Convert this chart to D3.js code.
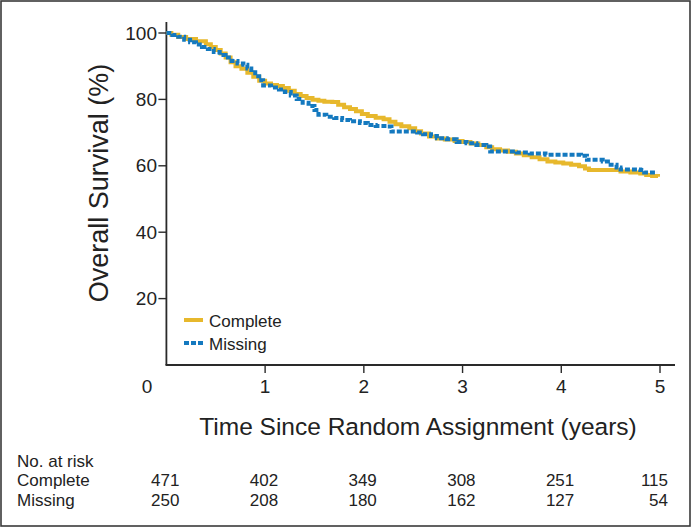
<!DOCTYPE html>
<html><head><meta charset="utf-8">
<script src="https://cdn.jsdelivr.net/npm/d3@7/dist/d3.min.js"></script>
<style>
html,body{margin:0;padding:0;background:#fff;}
svg text{font-family:"Liberation Sans Narrow","Arial Narrow","Liberation Sans",Arial,sans-serif;fill:#222;}
</style></head>
<body><svg id="c" width="692" height="529"></svg>
<script>
// ---- data ----
const completeTimes = [0,0.05,0.12,0.2,0.3,0.4,0.45,0.5,0.55,0.6,0.65,0.7,0.76,0.82,0.88,0.94,1.0,1.06,1.12,1.18,1.24,1.3,1.36,1.42,1.48,1.54,1.6,1.68,1.74,1.8,1.86,1.92,1.98,2.04,2.12,2.2,2.26,2.32,2.38,2.46,2.52,2.58,2.66,2.74,2.82,2.92,3.0,3.08,3.16,3.24,3.3,3.38,3.46,3.54,3.62,3.7,3.78,3.86,3.94,4.02,4.1,4.18,4.24,4.28,4.55,4.6,4.7,4.8,4.86,4.92,4.98];
const completeSurv = [100,99.5,98.8,98.2,97.5,96.6,95.8,94.9,93.8,92.6,91.2,90.0,89.2,88.0,86.8,85.6,84.8,84.3,84.0,83.4,82.6,81.6,81.0,80.4,79.9,79.6,79.3,79.2,78.4,77.6,77.1,76.4,75.6,75.0,74.5,74.0,73.3,72.5,71.9,71.3,70.4,69.7,68.8,68.2,67.9,67.5,67.2,66.7,66.3,65.6,65.0,64.6,64.2,63.7,63.2,62.6,62.0,61.3,61.0,60.7,60.3,59.9,59.2,58.7,58.7,58.3,58.0,57.7,57.2,56.9,56.7];
const missingTimes = [0,0.06,0.12,0.18,0.24,0.3,0.36,0.42,0.48,0.54,0.6,0.66,0.72,0.78,0.82,0.86,0.9,0.94,0.98,1.06,1.14,1.2,1.26,1.32,1.38,1.44,1.5,1.54,1.62,1.7,1.78,1.86,1.96,2.04,2.12,2.24,2.28,2.54,2.6,2.68,2.74,2.84,2.94,3.04,3.14,3.24,3.28,3.55,3.68,3.84,4.2,4.26,4.42,4.5,4.56,4.6,4.8,4.84,4.97];
const missingSurv = [100,99.4,98.9,98.0,97.2,96.5,95.8,95.2,94.3,93.4,92.6,91.6,90.8,90.4,89.3,88.2,87.0,85.8,84.2,83.6,83.0,82.2,81.2,80.1,79.0,78.0,76.8,75.4,74.8,74.4,73.8,73.4,72.9,72.3,72.0,71.8,70.3,70.0,69.5,69.0,68.3,68.0,67.2,66.8,66.3,65.8,64.3,64.0,63.7,63.3,63.0,61.8,61.3,60.3,59.5,58.9,58.7,58.0,58.0];
const xTicks = [0,1,2,3,4,5];
const yTicks = [20,40,60,80,100];
const riskGroups = ["Complete","Missing"];
const riskComplete = [471,402,349,308,251,115];
const riskMissing = [250,208,180,162,127,54];
const seriesNames = ["Complete","Missing"];
const seriesColors = ["#E7B82C","#1479BF"];

// ---- layout ----
const svg = d3.select("#c");
const x = d3.scaleLinear().domain([0,5]).range([166.4,660]);
const y = d3.scaleLinear().domain([0,100]).range([365,33]);

// outer frame
svg.append("rect").attr("x",1).attr("y",1).attr("width",689).attr("height",525)
  .attr("fill","none").attr("stroke","#3a3a3a").attr("stroke-width",1.6);

// axes
const axisColor = "#2a2a2a";
svg.append("line").attr("x1",x(0)).attr("x2",x(0)).attr("y1",22).attr("y2",y(0))
  .attr("stroke",axisColor).attr("stroke-width",1.8);
svg.append("line").attr("x1",x(0)-0.9).attr("x2",675).attr("y1",y(0)).attr("y2",y(0))
  .attr("stroke",axisColor).attr("stroke-width",1.8);

// y ticks
const yt = svg.append("g");
yTicks.forEach(v=>{
  yt.append("line").attr("x1",x(0)-8).attr("x2",x(0)).attr("y1",y(v)).attr("y2",y(v))
    .attr("stroke",axisColor).attr("stroke-width",1.4);
  yt.append("text").attr("x",157).attr("y",y(v)+6.6).attr("text-anchor","end")
    .attr("font-size",19).text(v);
});
// x ticks
const xt = svg.append("g");
xTicks.forEach(t=>{
  if(t>0) xt.append("line").attr("x1",x(t)).attr("x2",x(t)).attr("y1",y(0)).attr("y2",y(0)+8)
    .attr("stroke",axisColor).attr("stroke-width",1.4);
  xt.append("text").attr("x", t===0 ? 147 : x(t)).attr("y",393).attr("text-anchor","middle")
    .attr("font-size",19).text(t);
});

// titles
svg.append("text").attr("transform","translate(108,183) rotate(-90)")
  .attr("text-anchor","middle").attr("font-size",27).text("Overall Survival (%)");
svg.append("text").attr("x",418).attr("y",435).attr("text-anchor","middle")
  .attr("font-size",24.5).text("Time Since Random Assignment (years)");

// curves
const line = d3.line().x(d=>x(d[0])).y(d=>y(d[1])).curve(d3.curveStepAfter);
const completeData = completeTimes.map((t,i)=>[t,completeSurv[i]]);
const missingData = missingTimes.map((t,i)=>[t,missingSurv[i]]);
svg.append("path").datum(completeData).attr("d",line).attr("fill","none")
  .attr("stroke",seriesColors[0]).attr("stroke-width",4);
svg.append("path").datum(missingData).attr("d",line).attr("fill","none")
  .attr("stroke",seriesColors[1]).attr("stroke-width",4).attr("stroke-dasharray","5,2");

// legend
const leg = svg.append("g");
seriesNames.forEach((n,i)=>{
  const ly = 320 + i*23;
  leg.append("line").attr("x1",184).attr("x2",203).attr("y1",ly).attr("y2",ly)
    .attr("stroke",seriesColors[i]).attr("stroke-width",4)
    .attr("stroke-dasharray", i===1 ? "5,2" : null);
  leg.append("text").attr("x",209).attr("y",ly+6.5).attr("font-size",17).text(n);
});

// risk table
svg.append("text").attr("x",17).attr("y",466.5).attr("font-size",17).text("No. at risk");
const riskRows = [riskComplete, riskMissing];
riskGroups.forEach((g,i)=>{
  const by = 486.3 + i*19.5;
  svg.append("text").attr("x",17).attr("y",by).attr("font-size",17).text(g);
  riskRows[i].forEach((v,j)=>{
    const xx = j===5 ? 668 : x(xTicks[j]) + 13;
    svg.append("text").attr("x",xx).attr("y",by).attr("text-anchor","end")
      .attr("font-size",17).text(v);
  });
});
</script></body></html>
